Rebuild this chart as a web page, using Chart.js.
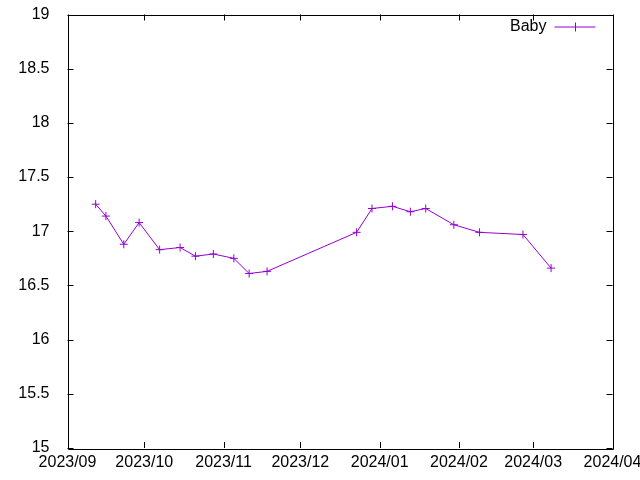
<!DOCTYPE html>
<html lang="en">
<head>
  <meta charset="UTF-8">
  <title>Baby</title>
  <script src="https://cdn.jsdelivr.net/npm/chart.js"></script>
  <style>
    html, body { margin: 0; padding: 0; background: #fff; }
    #wrap { width: 640px; height: 480px; }
  </style>
</head>
<body>
  <div id="wrap"><canvas id="babyChart" width="640" height="480"></canvas></div>

  <script>
    const dates = [
      '2023-09-12', '2023-09-16', '2023-09-23', '2023-09-29', '2023-10-07',
      '2023-10-15', '2023-10-21', '2023-10-28', '2023-11-05', '2023-11-11',
      '2023-11-18', '2023-12-23', '2023-12-29', '2024-01-06', '2024-01-13',
      '2024-01-19', '2024-01-30', '2024-02-09', '2024-02-26', '2024-03-08'
    ];
    const weights = [
      17.25, 17.14, 16.88, 17.08, 16.83,
      16.85, 16.77, 16.79, 16.75, 16.61,
      16.63, 16.99, 17.21, 17.23, 17.18,
      17.21, 17.06, 16.99, 16.97, 16.66
    ];
    const monthTicks = [
      '2023-09-01', '2023-10-01', '2023-11-01', '2023-12-01',
      '2024-01-01', '2024-02-01', '2024-03-01', '2024-04-01'
    ];
    const monthLabels = [
      '2023/09', '2023/10', '2023/11', '2023/12',
      '2024/01', '2024/02', '2024/03', '2024/04'
    ];
    const seriesName = 'Baby';
    const lineColor = '#9400d3';

    const toMs = d => Date.parse(d + 'T00:00:00Z');
    const points = dates.map((d, i) => ({ x: toMs(d), y: weights[i] }));
    const tickValues = monthTicks.map(toMs);

    Chart.defaults.font.family = '"Liberation Sans", Arial, sans-serif';
    Chart.defaults.font.size = 16;
    Chart.defaults.color = '#000';

    // gnuplot style frame: box border, inward ticks on all four sides, legend inside top right
    const framePlugin = {
      id: 'frame',
      afterDraw(chart) {
        const { ctx, chartArea: a, scales } = chart;
        const len = 6;
        ctx.save();
        ctx.strokeStyle = '#000';
        ctx.lineWidth = 1;
        ctx.beginPath();
        ctx.rect(Math.round(a.left) + 0.5, Math.round(a.top) + 0.5,
                 Math.round(a.right - a.left), Math.round(a.bottom - a.top));
        scales.x.ticks.forEach(t => {
          const px = Math.round(scales.x.getPixelForValue(t.value)) + 0.5;
          ctx.moveTo(px, a.bottom); ctx.lineTo(px, a.bottom - len);
          ctx.moveTo(px, a.top); ctx.lineTo(px, a.top + len);
        });
        scales.y.ticks.forEach(t => {
          const py = Math.round(scales.y.getPixelForValue(t.value)) + 0.5;
          ctx.moveTo(a.left, py); ctx.lineTo(a.left + len, py);
          ctx.moveTo(a.right, py); ctx.lineTo(a.right - len, py);
        });
        ctx.stroke();

        // legend
        const ly = a.top + 12;
        const lx1 = a.right - 58, lx2 = a.right - 17;
        ctx.fillStyle = '#000';
        ctx.font = '16px "Liberation Sans", Arial, sans-serif';
        ctx.textAlign = 'right';
        ctx.textBaseline = 'middle';
        ctx.fillText(seriesName, lx1 - 8, ly);
        ctx.strokeStyle = lineColor;
        ctx.beginPath();
        ctx.moveTo(lx1, ly + 0.5); ctx.lineTo(lx2, ly + 0.5);
        const cx = Math.round((lx1 + lx2) / 2) + 0.5;
        ctx.moveTo(cx, ly - 4); ctx.lineTo(cx, ly + 5);
        ctx.stroke();
        ctx.restore();
      }
    };

    new Chart(document.getElementById('babyChart'), {
      type: 'line',
      data: {
        datasets: [{
          label: seriesName,
          data: points,
          borderColor: lineColor,
          backgroundColor: lineColor,
          borderWidth: 1,
          pointStyle: 'cross',
          pointRadius: 4,
          pointBorderWidth: 1,
          tension: 0
        }]
      },
      options: {
        responsive: false,
        animation: false,
        layout: { padding: { left: 0, right: 27.5, top: 14.5, bottom: 0 } },
        plugins: { legend: { display: false }, tooltip: { enabled: false } },
        scales: {
          x: {
            type: 'linear',
            min: tickValues[0],
            max: tickValues[tickValues.length - 1],
            grid: { display: false },
            border: { display: false },
            afterBuildTicks: s => { s.ticks = tickValues.map(v => ({ value: v })); },
            afterFit: s => {
              s.height = 32;
              s.paddingLeft = 0;
              s.paddingRight = 0;
            },
            ticks: {
              padding: -3,
              maxRotation: 0,
              autoSkip: false,
              callback: v => monthLabels[tickValues.indexOf(v)]
            }
          },
          y: {
            min: 15,
            max: 19,
            grid: { display: false },
            border: { display: false },
            afterFit: s => {
              s.width = 67.5;
              s.paddingTop = 0;
              s.paddingBottom = 0;
            },
            ticks: { stepSize: 0.5, padding: 10, callback: v => String(v) }
          }
        }
      },
      plugins: [framePlugin]
    });
  </script>
</body>
</html>
